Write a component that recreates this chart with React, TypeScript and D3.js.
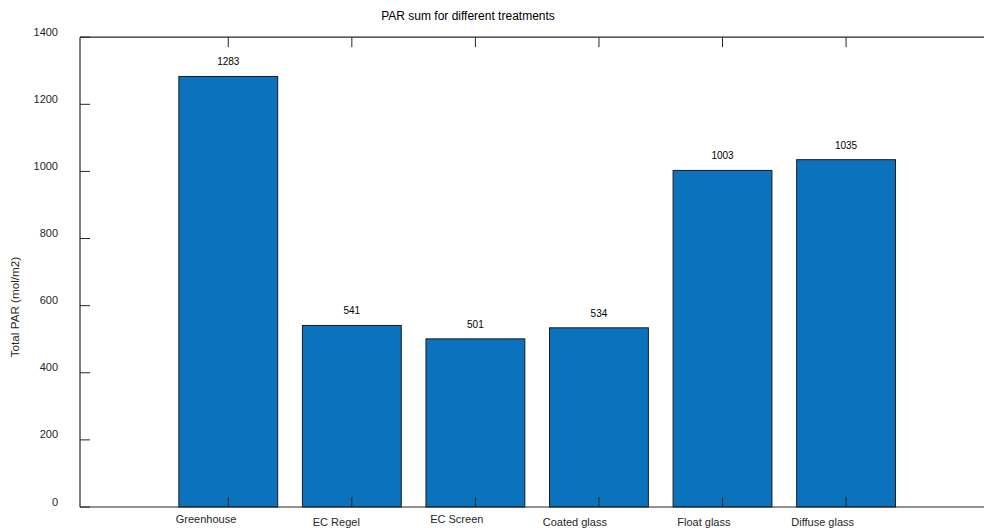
import React from "react";
import * as d3 from "d3";

// PAR totals per treatment (mol/m2)
const categories = ["Greenhouse", "EC Regel", "EC Screen", "Coated glass", "Float glass", "Diffuse glass"];
const parTotals = [1283, 541, 501, 534, 1003, 1035];
const yTicks = [0, 200, 400, 600, 800, 1000, 1200, 1400];

const W = 984;
const H = 528;
const FONT = "'Liberation Sans', Arial, Helvetica, sans-serif";
const AXIS = "#262626";
const BAR = "#0b73bd";

export default function App() {
  // categories are placed at 1..n on a numeric axis
  const x = d3.scaleLinear().domain([-0.2, 7.2]).range([80, 80 + 7.4 * 123.56]);
  const y = d3.scaleLinear().domain([0, 1400]).range([507, 37.2]);
  const barW = x(1.8) - x(1);
  const left = x(-0.2);
  const top = y(1400);
  const bottom = y(0);
  const tickLen = 10;

  return (
    <svg
      width={W}
      height={H}
      style={{ position: "fixed", left: 0, top: 0, background: "#fff" }}
      fontFamily={FONT}
    >
      <rect x={0} y={0} width={W} height={H} fill="#fff" />
      {/* bars */}
      {parTotals.map((v, i) => (
        <rect
          key={categories[i]}
          x={x(i + 1) - barW / 2}
          y={y(v)}
          width={barW}
          height={y(0) - y(v)}
          fill={BAR}
          stroke="#1a1a1a"
          strokeWidth={1}
        />
      ))}
      {/* value labels */}
      {parTotals.map((v, i) => (
        <text
          key={"v" + i}
          x={x(i + 1)}
          y={y(v) - 11}
          textAnchor="middle"
          fontSize={10}
          fill="#000"
        >
          {v}
        </text>
      ))}
      {/* axis lines */}
      <line x1={left} x2={W} y1={bottom} y2={bottom} stroke={AXIS} strokeWidth={1.2} />
      <line x1={left} x2={W} y1={top} y2={top} stroke={AXIS} strokeWidth={1.2} />
      <line x1={left} x2={left} y1={top} y2={bottom} stroke={AXIS} strokeWidth={1.2} />
      {/* y ticks */}
      {yTicks.map((t) => (
        <g key={"y" + t}>
          <line x1={left} x2={left + tickLen} y1={y(t)} y2={y(t)} stroke={AXIS} strokeWidth={1} />
          <text x={58} y={y(t) - 1.5} textAnchor="end" fontSize={11} fill="#262626">
            {t}
          </text>
        </g>
      ))}
      {/* x ticks, bottom and top */}
      {categories.map((c, i) => (
        <g key={"x" + c}>
          <line x1={x(i + 1)} x2={x(i + 1)} y1={bottom} y2={bottom - tickLen} stroke={AXIS} strokeWidth={1} />
          <line x1={x(i + 1)} x2={x(i + 1)} y1={top} y2={top + tickLen} stroke={AXIS} strokeWidth={1} />
          <text
            x={x(i + 1) + 8}
            y={/[gjpqy]/.test(c) ? 525.5 : 523}
            textAnchor="end"
            fontSize={11}
            fill="#262626"
          >
            {c}
          </text>
        </g>
      ))}
      {/* title */}
      <text x={468} y={20} textAnchor="middle" fontSize={12} fill="#000">
        PAR sum for different treatments
      </text>
      {/* y label */}
      <text
        transform={`translate(19,307) rotate(-90)`}
        textAnchor="middle"
        fontSize={11.7}
        fill="#262626"
      >
        Total PAR (mol/m2)
      </text>
    </svg>
  );
}
